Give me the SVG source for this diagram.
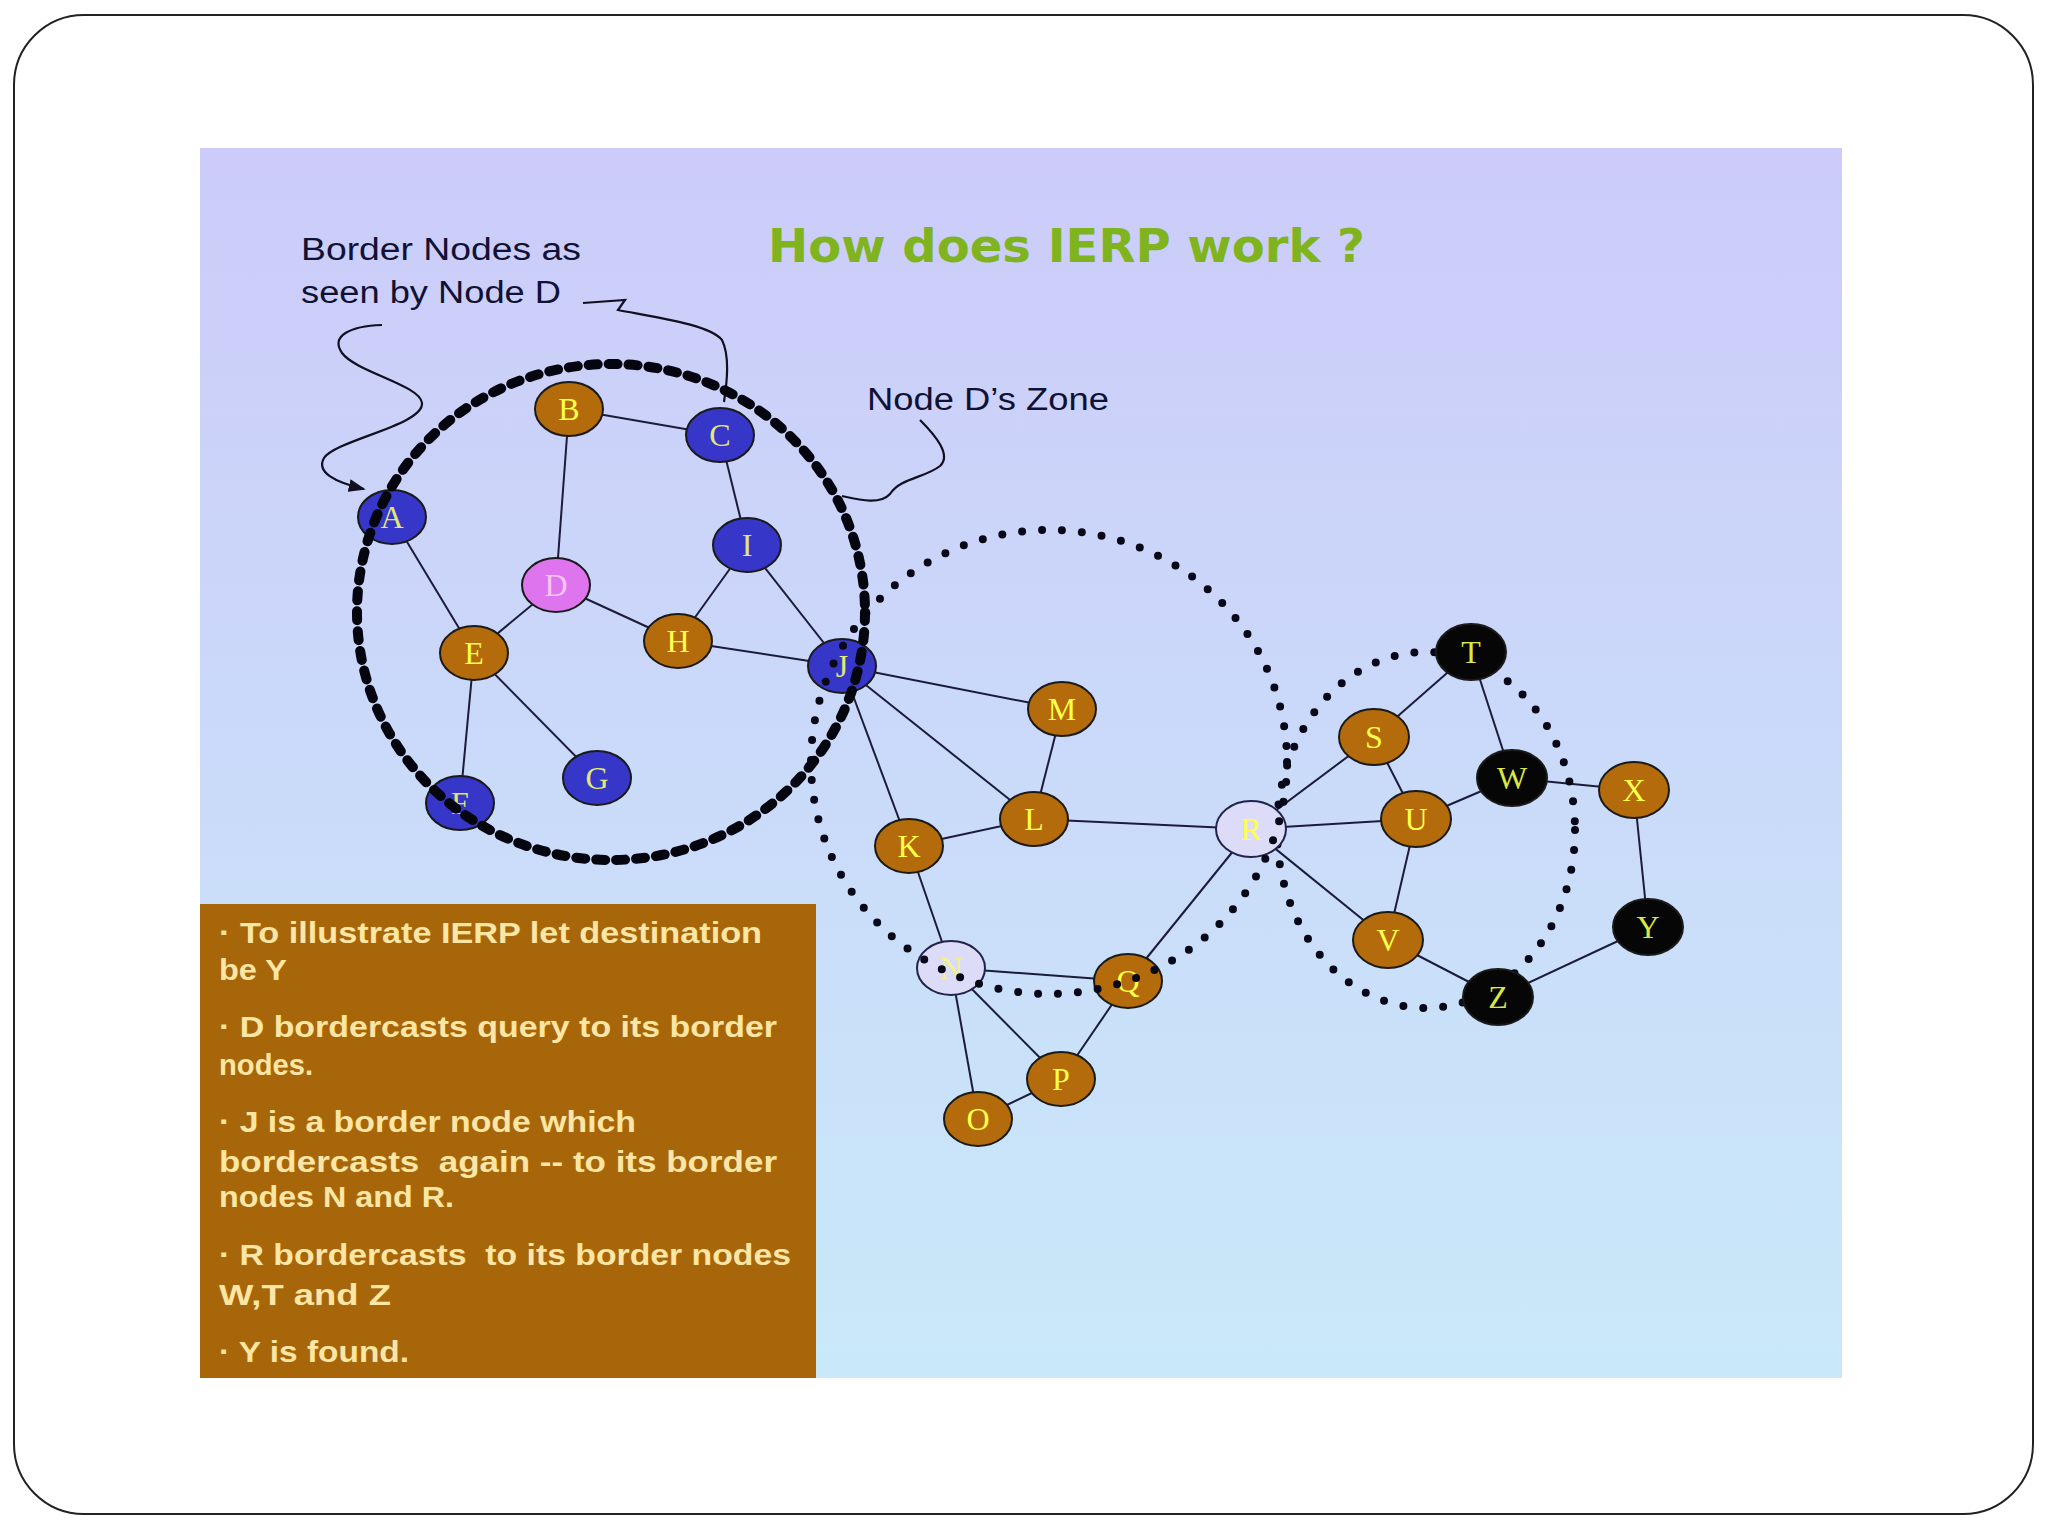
<svg xmlns="http://www.w3.org/2000/svg" width="2048" height="1536" viewBox="0 0 2048 1536">
<defs>
<linearGradient id="bg" x1="0" y1="0" x2="0" y2="1">
<stop offset="0" stop-color="#cccbf9"/>
<stop offset="1" stop-color="#c9e9f9"/>
</linearGradient>
<marker id="arr" viewBox="0 0 10 10" refX="9" refY="5" markerWidth="17" markerHeight="13" orient="auto" markerUnits="userSpaceOnUse" preserveAspectRatio="none">
<path d="M0,0 L10,5 L0,10 z" fill="#101020"/>
</marker>
<style>
.edge{stroke:#1b1b3a;stroke-width:2;fill:none}
.nd{stroke:#1a1a1a;stroke-width:2}
.or{fill:#b36b0b}
.bl{fill:#3636c9}
.pk{fill:#df74ef}
.lv{fill:#dcdcf8;stroke:#22224a}
.bk{fill:#060606}
.lbl{font-family:"Liberation Serif",serif;font-size:32px;text-anchor:middle}
.ly{fill:#ffff4a}
.lb{fill:#e2e878}
.lk{fill:#d9e844}
.lp{fill:#f8c4f0}
.note{font-family:"Liberation Sans",Arial,sans-serif;font-size:31px;fill:#111133}
.box{font-family:"Liberation Sans",Arial,sans-serif;font-size:30px;font-weight:bold;fill:#fbe6a6}
.curve{stroke:#101020;stroke-width:2.2;fill:none}
.dots{fill:none;stroke:#080818;stroke-width:8;stroke-linecap:round;stroke-dasharray:0 20}
</style>
</defs>
<rect x="0" y="0" width="2048" height="1536" fill="#ffffff"/>
<rect x="14" y="15" width="2019" height="1499" rx="70" ry="70" fill="#ffffff" stroke="#222222" stroke-width="2"/>
<rect x="200" y="148" width="1642" height="1230" fill="url(#bg)"/>
<rect x="200" y="904" width="616" height="474" fill="#a8660a"/>

<text x="768" y="262" font-family="DejaVu Sans,sans-serif" font-weight="bold" font-size="46" fill="#7fb41e" textLength="597" lengthAdjust="spacingAndGlyphs">How does IERP work ?</text>

<g id="annotations">
<text class="note" x="301" y="260" textLength="280" lengthAdjust="spacingAndGlyphs">Border Nodes as</text>
<text class="note" x="301" y="303" textLength="260" lengthAdjust="spacingAndGlyphs">seen by Node D</text>
<text class="note" x="867" y="410" textLength="242" lengthAdjust="spacingAndGlyphs">Node D’s Zone</text>
<path class="curve" d="M382,325 C350,326 330,336 342,353 C356,372 420,385 422,403 C424,425 336,440 324,458 C316,472 334,482 364,489" marker-end="url(#arr)"/>
<path class="curve" d="M583,303 L625,300 L618,310 C660,318 710,325 722,340 C730,356 727,382 724,402"/>
<path class="curve" d="M920,420 C935,435 952,455 940,466 C925,478 900,478 890,494 C880,505 860,500 842,496"/>
</g>

<g id="connectors">
<line class="edge" x1="569" y1="409" x2="720" y2="435"/>
<line class="edge" x1="569" y1="409" x2="556" y2="585"/>
<line class="edge" x1="720" y1="435" x2="747" y2="545"/>
<line class="edge" x1="392" y1="517" x2="474" y2="653"/>
<line class="edge" x1="556" y1="585" x2="474" y2="653"/>
<line class="edge" x1="556" y1="585" x2="678" y2="641"/>
<line class="edge" x1="747" y1="545" x2="678" y2="641"/>
<line class="edge" x1="747" y1="545" x2="842" y2="666"/>
<line class="edge" x1="678" y1="641" x2="842" y2="666"/>
<line class="edge" x1="474" y1="653" x2="460" y2="803"/>
<line class="edge" x1="474" y1="653" x2="597" y2="778"/>
<line class="edge" x1="842" y1="666" x2="1062" y2="709"/>
<line class="edge" x1="842" y1="666" x2="1034" y2="819"/>
<line class="edge" x1="842" y1="666" x2="909" y2="846"/>
<line class="edge" x1="1062" y1="709" x2="1034" y2="819"/>
<line class="edge" x1="909" y1="846" x2="1034" y2="819"/>
<line class="edge" x1="1034" y1="819" x2="1251" y2="829"/>
<line class="edge" x1="909" y1="846" x2="951" y2="968"/>
<line class="edge" x1="951" y1="968" x2="1128" y2="981"/>
<line class="edge" x1="951" y1="968" x2="1061" y2="1079"/>
<line class="edge" x1="951" y1="968" x2="978" y2="1119"/>
<line class="edge" x1="978" y1="1119" x2="1061" y2="1079"/>
<line class="edge" x1="1061" y1="1079" x2="1128" y2="981"/>
<line class="edge" x1="1128" y1="981" x2="1251" y2="829"/>
<line class="edge" x1="1251" y1="829" x2="1374" y2="737"/>
<line class="edge" x1="1251" y1="829" x2="1416" y2="819"/>
<line class="edge" x1="1251" y1="829" x2="1388" y2="940"/>
<line class="edge" x1="1374" y1="737" x2="1471" y2="652"/>
<line class="edge" x1="1374" y1="737" x2="1416" y2="819"/>
<line class="edge" x1="1416" y1="819" x2="1512" y2="778"/>
<line class="edge" x1="1416" y1="819" x2="1388" y2="940"/>
<line class="edge" x1="1471" y1="652" x2="1512" y2="778"/>
<line class="edge" x1="1512" y1="778" x2="1634" y2="790"/>
<line class="edge" x1="1634" y1="790" x2="1648" y2="927"/>
<line class="edge" x1="1648" y1="927" x2="1498" y2="997"/>
<line class="edge" x1="1388" y1="940" x2="1498" y2="997"/>
</g>

<g id="zone-R">
<ellipse class="dots" cx="1426" cy="830" rx="149" ry="178"/>
</g>

<g id="node-A"><ellipse class="nd bl" cx="392" cy="517" rx="34" ry="27"/><text class="lbl lb" x="392" y="528">A</text></g>
<g id="node-B"><ellipse class="nd or" cx="569" cy="409" rx="34" ry="27"/><text class="lbl ly" x="569" y="420">B</text></g>
<g id="node-C"><ellipse class="nd bl" cx="720" cy="435" rx="34" ry="27"/><text class="lbl lb" x="720" y="446">C</text></g>
<g id="node-D"><ellipse class="nd pk" cx="556" cy="585" rx="34" ry="27"/><text class="lbl lp" x="556" y="596">D</text></g>
<g id="node-E"><ellipse class="nd or" cx="474" cy="653" rx="34" ry="27"/><text class="lbl ly" x="474" y="664">E</text></g>
<g id="node-F"><ellipse class="nd bl" cx="460" cy="803" rx="34" ry="27"/><text class="lbl lb" x="460" y="814">F</text></g>
<g id="node-G"><ellipse class="nd bl" cx="597" cy="778" rx="34" ry="27"/><text class="lbl lb" x="597" y="789">G</text></g>
<g id="node-H"><ellipse class="nd or" cx="678" cy="641" rx="34" ry="27"/><text class="lbl ly" x="678" y="652">H</text></g>
<g id="node-I"><ellipse class="nd bl" cx="747" cy="545" rx="34" ry="27"/><text class="lbl lb" x="747" y="556">I</text></g>
<g id="node-J"><ellipse class="nd bl" cx="842" cy="666" rx="34" ry="27"/><text class="lbl lb" x="842" y="677">J</text></g>
<g id="node-K"><ellipse class="nd or" cx="909" cy="846" rx="34" ry="27"/><text class="lbl ly" x="909" y="857">K</text></g>
<g id="node-L"><ellipse class="nd or" cx="1034" cy="819" rx="34" ry="27"/><text class="lbl ly" x="1034" y="830">L</text></g>
<g id="node-M"><ellipse class="nd or" cx="1062" cy="709" rx="34" ry="27"/><text class="lbl ly" x="1062" y="720">M</text></g>
<g id="node-N"><ellipse class="nd lv" cx="951" cy="968" rx="34" ry="27"/><text class="lbl ly" x="951" y="979" opacity="0.6">N</text></g>
<g id="node-O"><ellipse class="nd or" cx="978" cy="1119" rx="34" ry="27"/><text class="lbl ly" x="978" y="1130">O</text></g>
<g id="node-P"><ellipse class="nd or" cx="1061" cy="1079" rx="34" ry="27"/><text class="lbl ly" x="1061" y="1090">P</text></g>
<g id="node-Q"><ellipse class="nd or" cx="1128" cy="981" rx="34" ry="27"/><text class="lbl ly" x="1128" y="992">Q</text></g>
<g id="node-R"><ellipse class="nd lv" cx="1251" cy="829" rx="35" ry="28"/><text class="lbl ly" x="1251" y="840">R</text></g>
<g id="node-S"><ellipse class="nd or" cx="1374" cy="737" rx="35" ry="28"/><text class="lbl ly" x="1374" y="748">S</text></g>
<g id="node-T"><ellipse class="nd bk" cx="1471" cy="652" rx="35" ry="28"/><text class="lbl lk" x="1471" y="663">T</text></g>
<g id="node-U"><ellipse class="nd or" cx="1416" cy="819" rx="35" ry="28"/><text class="lbl ly" x="1416" y="830">U</text></g>
<g id="node-V"><ellipse class="nd or" cx="1388" cy="940" rx="35" ry="28"/><text class="lbl ly" x="1388" y="951">V</text></g>
<g id="node-W"><ellipse class="nd bk" cx="1512" cy="778" rx="35" ry="28"/><text class="lbl lk" x="1512" y="789">W</text></g>
<g id="node-X"><ellipse class="nd or" cx="1634" cy="790" rx="35" ry="28"/><text class="lbl ly" x="1634" y="801">X</text></g>
<g id="node-Y"><ellipse class="nd bk" cx="1648" cy="927" rx="35" ry="28"/><text class="lbl lk" x="1648" y="938">Y</text></g>
<g id="node-Z"><ellipse class="nd bk" cx="1498" cy="997" rx="35" ry="28"/><text class="lbl lk" x="1498" y="1008">Z</text></g>

<g id="zone-J">
<ellipse class="dots" cx="1049" cy="762" rx="238" ry="232"/>
</g>
<g id="zone-D">
<ellipse cx="611" cy="612" rx="254" ry="248" fill="none" stroke="#050510" stroke-width="10" stroke-linecap="round" stroke-dasharray="9 11"/>
</g>

<g id="textbox">
<text class="box" x="219" y="943" textLength="543" lengthAdjust="spacingAndGlyphs">· To illustrate IERP let destination</text>
<text class="box" x="219" y="980" textLength="68" lengthAdjust="spacingAndGlyphs">be Y</text>
<text class="box" x="219" y="1037" textLength="558" lengthAdjust="spacingAndGlyphs">· D bordercasts query to its border</text>
<text class="box" x="219" y="1075" textLength="94" lengthAdjust="spacingAndGlyphs">nodes.</text>
<text class="box" x="219" y="1132" textLength="417" lengthAdjust="spacingAndGlyphs">· J is a border node which</text>
<text class="box" x="219" y="1172" textLength="558" lengthAdjust="spacingAndGlyphs" xml:space="preserve">bordercasts  again -- to its border</text>
<text class="box" x="219" y="1207" textLength="235" lengthAdjust="spacingAndGlyphs">nodes N and R.</text>
<text class="box" x="219" y="1265" textLength="572" lengthAdjust="spacingAndGlyphs" xml:space="preserve">· R bordercasts  to its border nodes</text>
<text class="box" x="219" y="1305" textLength="172" lengthAdjust="spacingAndGlyphs">W,T and Z</text>
<text class="box" x="219" y="1362" textLength="190" lengthAdjust="spacingAndGlyphs">· Y is found.</text>
</g>
</svg>
